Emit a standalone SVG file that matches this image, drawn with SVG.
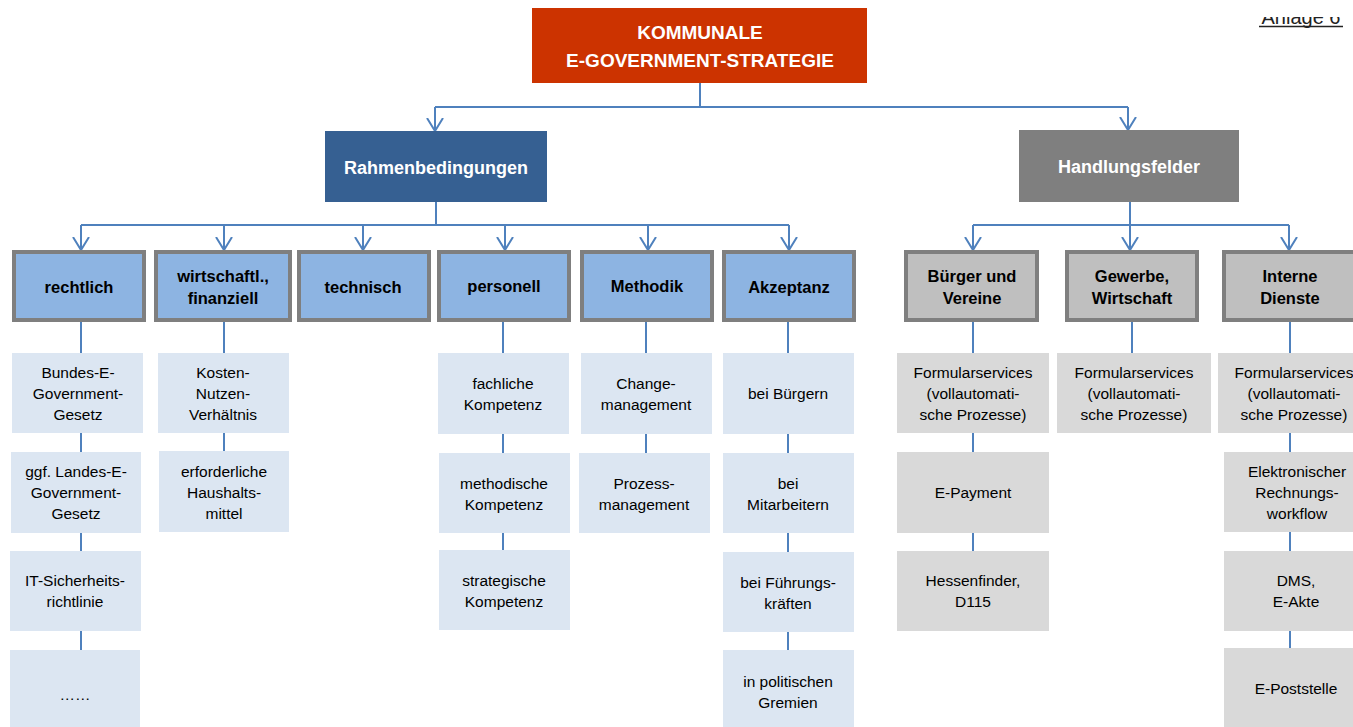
<svg xmlns="http://www.w3.org/2000/svg" width="1353" height="727" viewBox="0 0 1353 727">
  <style>
    text { font-family: "Liberation Sans", Arial, sans-serif; text-anchor: middle; }
    .title { font-size: 19px; font-weight: bold; fill: #FFFFFF; }
    .head { font-size: 18px; font-weight: bold; fill: #FFFFFF; }
    .cat { font-size: 16.5px; font-weight: bold; fill: #000000; }
    .sub { font-size: 15.5px; fill: #000000; }
    .catBlue { fill: #8DB4E2; stroke: #7F7F7F; stroke-width: 4; }
    .catGray { fill: #BFBFBF; stroke: #7F7F7F; stroke-width: 4; }
    .subBlue { fill: #DCE6F2; }
    .subGray { fill: #D9D9D9; }
    .conn { fill: none; stroke: #4F81BD; stroke-width: 2; }
    .arrow { marker-end: url(#arr); }
  </style>
  <defs>
    <marker id="arr" viewBox="0 0 14 18" refX="13" refY="9" markerWidth="14" markerHeight="18" orient="auto" markerUnits="userSpaceOnUse">
      <path d="M0,1 L13,9 L0,17" fill="none" stroke="#4F81BD" stroke-width="2"/>
    </marker>
    <clipPath id="pageTop">
      <rect x="1200" y="17" width="153" height="30"/>
    </clipPath>
  </defs>

  <rect x="0" y="0" width="1353" height="727" fill="#FFFFFF"/>

  <!-- page label, cut off at the top edge -->
  <g id="anlage" clip-path="url(#pageTop)">
    <text x="1301" y="24" style="font-size:20px; fill:#222222;">Anlage 6</text>
    <line x1="1259" y1="26.5" x2="1343" y2="26.5" stroke="#222222" stroke-width="1.3"/>
  </g>

  <!-- connectors -->
  <g id="connectors">
    <path class="conn" d="M700,83 V107 M435,107 H1128"/>
    <path class="conn arrow" d="M435,107 V131"/>
    <path class="conn arrow" d="M1128,107 V130"/>

    <path class="conn" d="M436,202 V225 M81,225 H789"/>
    <path class="conn arrow" d="M81,225 V250"/>
    <path class="conn arrow" d="M224,225 V250"/>
    <path class="conn arrow" d="M363,225 V250"/>
    <path class="conn arrow" d="M505,225 V250"/>
    <path class="conn arrow" d="M648,225 V250"/>
    <path class="conn arrow" d="M789,225 V250"/>

    <path class="conn" d="M1130,202 V225 M973,225 H1289"/>
    <path class="conn arrow" d="M973,225 V250"/>
    <path class="conn arrow" d="M1130,225 V250"/>
    <path class="conn arrow" d="M1289,225 V250"/>

    <path class="conn" d="M81,322 V650"/>
    <path class="conn" d="M224,322 V451"/>
    <path class="conn" d="M503,322 V550"/>
    <path class="conn" d="M646,322 V453"/>
    <path class="conn" d="M788,322 V650"/>
    <path class="conn" d="M973,322 V551"/>
    <path class="conn" d="M1132,322 V353"/>
    <path class="conn" d="M1290,322 V648"/>
  </g>

  <!-- top level -->
  <g id="strategie">
    <rect x="532" y="8" width="335" height="75" fill="#CC3300"/>
    <text class="title" x="700" y="39">KOMMUNALE</text>
    <text class="title" x="700" y="67">E-GOVERNMENT-STRATEGIE</text>
  </g>

  <g id="rahmenbedingungen">
    <rect x="325" y="131" width="222" height="71" fill="#366092"/>
    <text class="head" x="436" y="174">Rahmenbedingungen</text>
  </g>

  <g id="handlungsfelder">
    <rect x="1019" y="130" width="220" height="72" fill="#7F7F7F"/>
    <text class="head" x="1129" y="173">Handlungsfelder</text>
  </g>

  <!-- Rahmenbedingungen: categories -->
  <g id="rechtlich">
    <rect class="catBlue" x="14" y="252" width="130" height="68"/>
    <text class="cat" x="79" y="293">rechtlich</text>
  </g>
  <g id="wirtschaftlich">
    <rect class="catBlue" x="156" y="252" width="134" height="68"/>
    <text class="cat" x="223" y="282">wirtschaftl.,</text>
    <text class="cat" x="223" y="304">finanziell</text>
  </g>
  <g id="technisch">
    <rect class="catBlue" x="299" y="252" width="130" height="68"/>
    <text class="cat" x="363" y="293">technisch</text>
  </g>
  <g id="personell">
    <rect class="catBlue" x="439" y="252" width="130" height="68"/>
    <text class="cat" x="504" y="292">personell</text>
  </g>
  <g id="methodik">
    <rect class="catBlue" x="582" y="252" width="130" height="68"/>
    <text class="cat" x="647" y="292">Methodik</text>
  </g>
  <g id="akzeptanz">
    <rect class="catBlue" x="724" y="252" width="130" height="68"/>
    <text class="cat" x="789" y="293">Akzeptanz</text>
  </g>

  <!-- Handlungsfelder: categories -->
  <g id="buerger">
    <rect class="catGray" x="906" y="252" width="131" height="68"/>
    <text class="cat" x="972" y="282">Bürger und</text>
    <text class="cat" x="972" y="304">Vereine</text>
  </g>
  <g id="gewerbe">
    <rect class="catGray" x="1067" y="252" width="130" height="68"/>
    <text class="cat" x="1132" y="282">Gewerbe,</text>
    <text class="cat" x="1132" y="304">Wirtschaft</text>
  </g>
  <g id="interne">
    <rect class="catGray" x="1224" y="252" width="131" height="68"/>
    <text class="cat" x="1290" y="282">Interne</text>
    <text class="cat" x="1290" y="304">Dienste</text>
  </g>

  <!-- rechtlich items -->
  <g id="bundes-egovg">
    <rect class="subBlue" x="12" y="353" width="131" height="80"/>
    <text class="sub" x="78" y="378">Bundes-E-</text>
    <text class="sub" x="78" y="399">Government-</text>
    <text class="sub" x="78" y="420">Gesetz</text>
  </g>
  <g id="landes-egovg">
    <rect class="subBlue" x="11" y="452" width="130" height="81"/>
    <text class="sub" x="76" y="477">ggf. Landes-E-</text>
    <text class="sub" x="76" y="498">Government-</text>
    <text class="sub" x="76" y="519">Gesetz</text>
  </g>
  <g id="it-sicherheit">
    <rect class="subBlue" x="10" y="551" width="131" height="80"/>
    <text class="sub" x="75" y="586">IT-Sicherheits-</text>
    <text class="sub" x="75" y="607">richtlinie</text>
  </g>
  <g id="weitere">
    <rect class="subBlue" x="10" y="650" width="130" height="90"/>
    <text class="sub" x="75" y="700">……</text>
  </g>

  <!-- wirtschaftlich items -->
  <g id="kosten-nutzen">
    <rect class="subBlue" x="158" y="353" width="131" height="80"/>
    <text class="sub" x="223" y="378">Kosten-</text>
    <text class="sub" x="223" y="399">Nutzen-</text>
    <text class="sub" x="223" y="420">Verhältnis</text>
  </g>
  <g id="haushaltsmittel">
    <rect class="subBlue" x="159" y="451" width="130" height="81"/>
    <text class="sub" x="224" y="477">erforderliche</text>
    <text class="sub" x="224" y="498">Haushalts-</text>
    <text class="sub" x="224" y="519">mittel</text>
  </g>

  <!-- personell items -->
  <g id="fachlich">
    <rect class="subBlue" x="438" y="353" width="131" height="81"/>
    <text class="sub" x="503" y="389">fachliche</text>
    <text class="sub" x="503" y="410">Kompetenz</text>
  </g>
  <g id="methodisch">
    <rect class="subBlue" x="439" y="453" width="131" height="80"/>
    <text class="sub" x="504" y="489">methodische</text>
    <text class="sub" x="504" y="510">Kompetenz</text>
  </g>
  <g id="strategisch">
    <rect class="subBlue" x="439" y="550" width="131" height="80"/>
    <text class="sub" x="504" y="586">strategische</text>
    <text class="sub" x="504" y="607">Kompetenz</text>
  </g>

  <!-- Methodik items -->
  <g id="change">
    <rect class="subBlue" x="581" y="353" width="131" height="81"/>
    <text class="sub" x="646" y="389">Change-</text>
    <text class="sub" x="646" y="410">management</text>
  </g>
  <g id="prozess">
    <rect class="subBlue" x="579" y="453" width="131" height="80"/>
    <text class="sub" x="644" y="489">Prozess-</text>
    <text class="sub" x="644" y="510">management</text>
  </g>

  <!-- Akzeptanz items -->
  <g id="buergern">
    <rect class="subBlue" x="723" y="353" width="131" height="81"/>
    <text class="sub" x="788" y="399">bei Bürgern</text>
  </g>
  <g id="mitarbeitern">
    <rect class="subBlue" x="723" y="453" width="131" height="80"/>
    <text class="sub" x="788" y="489">bei</text>
    <text class="sub" x="788" y="510">Mitarbeitern</text>
  </g>
  <g id="fuehrung">
    <rect class="subBlue" x="723" y="552" width="131" height="80"/>
    <text class="sub" x="788" y="588">bei Führungs-</text>
    <text class="sub" x="788" y="609">kräften</text>
  </g>
  <g id="gremien">
    <rect class="subBlue" x="723" y="650" width="131" height="90"/>
    <text class="sub" x="788" y="687">in politischen</text>
    <text class="sub" x="788" y="708">Gremien</text>
  </g>

  <!-- Bürger und Vereine items -->
  <g id="formular-buerger">
    <rect class="subGray" x="897" y="353" width="152" height="80"/>
    <text class="sub" x="973" y="378">Formularservices</text>
    <text class="sub" x="973" y="399">(vollautomati-</text>
    <text class="sub" x="973" y="420">sche Prozesse)</text>
  </g>
  <g id="epayment">
    <rect class="subGray" x="897" y="452" width="152" height="81"/>
    <text class="sub" x="973" y="498">E-Payment</text>
  </g>
  <g id="hessenfinder">
    <rect class="subGray" x="897" y="551" width="152" height="80"/>
    <text class="sub" x="973" y="586">Hessenfinder,</text>
    <text class="sub" x="973" y="607">D115</text>
  </g>

  <!-- Gewerbe, Wirtschaft items -->
  <g id="formular-gewerbe">
    <rect class="subGray" x="1057" y="353" width="154" height="80"/>
    <text class="sub" x="1134" y="378">Formularservices</text>
    <text class="sub" x="1134" y="399">(vollautomati-</text>
    <text class="sub" x="1134" y="420">sche Prozesse)</text>
  </g>

  <!-- Interne Dienste items -->
  <g id="formular-intern">
    <rect class="subGray" x="1218" y="353" width="152" height="80"/>
    <text class="sub" x="1294" y="378">Formularservices</text>
    <text class="sub" x="1294" y="399">(vollautomati-</text>
    <text class="sub" x="1294" y="420">sche Prozesse)</text>
  </g>
  <g id="rechnungsworkflow">
    <rect class="subGray" x="1224" y="452" width="146" height="80"/>
    <text class="sub" x="1297" y="477">Elektronischer</text>
    <text class="sub" x="1297" y="498">Rechnungs-</text>
    <text class="sub" x="1297" y="519">workflow</text>
  </g>
  <g id="dms">
    <rect class="subGray" x="1224" y="551" width="146" height="80"/>
    <text class="sub" x="1296" y="586">DMS,</text>
    <text class="sub" x="1296" y="607">E-Akte</text>
  </g>
  <g id="poststelle">
    <rect class="subGray" x="1224" y="648" width="146" height="92"/>
    <text class="sub" x="1296" y="694">E-Poststelle</text>
  </g>
</svg>
